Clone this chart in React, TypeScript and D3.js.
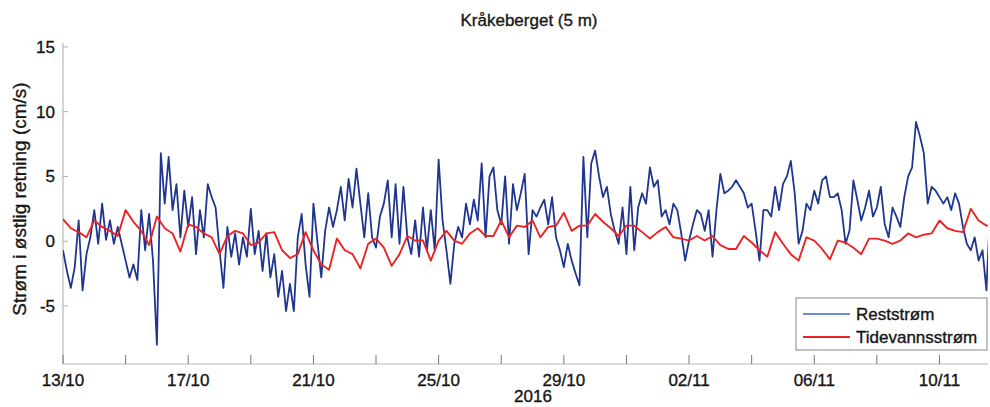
import React from "react";
import * as d3 from "d3";

// Reststrøm (cm/s), one reading every 3 hours from 13/10/2016 00:00
const reststromValues: number[] = [
  -0.7, -2.3, -3.6, -2.0, 1.6, -3.8, -1.0, 0.3,
  2.4, -0.2, 2.9, 0.1, 1.6, -0.2, 1.1, -0.2,
  -1.5, -2.8, -1.8, -3.0, 2.4, -0.7, 2.1, -1.5,
  -8.0, 6.8, 2.9, 6.5, 2.4, 4.4, 0.3, 3.9,
  1.1, 3.4, -1.0, 2.4, 0.3, 4.4, 3.4, 2.6,
  -0.7, -3.6, 1.1, -1.2, 0.6, -1.8, 0.3, -1.2,
  2.5, -1.0, 0.8, -2.3, 0.6, -2.8, -1.0, -4.3,
  -2.3, -5.4, -3.3, -5.4, 0.3,
  2.1, -1.8, -4.3, 2.9, 0.05, -2.8, 0.8, 2.6,
  1.1, 2.4, 4.2, 1.6, 4.8, 2.6, 5.6, 2.9,
  0.3, 3.7, 0.3, -0.5, 1.9, 2.9, 4.7, 0.3,
  4.4, -0.2, 4.2, 0.3, -1.0, 1.6, -1.2, 2.6,
  -0.7, 2.4, -0.7, 6.3, 1.6, -0.7, -3.3, -0.2,
  1.1, 0.3, 2.9, 1.3, 3.2, 1.6, 6.0, 0.3,
  5.0, 5.7, 2.4, 1.3, 5.0, -0.2, 4.4, 2.4,
  3.7, 5.2, -1.0, 2.4,
  1.9, 2.6, 3.2, 1.3, 3.4, 0.3, -0.7, -2.0,
  -0.2, -1.5, -2.5, -3.4, 6.5, 0.3, 6.0, 7.0,
  5.0, 3.4, 4.2, 2.1, 0.8, -0.2, 2.6, -1.0,
  4.2, -0.7, 2.6, 3.7, 2.9, 5.7, 4.2, 4.7,
  1.9, 2.4, 1.3, 2.9, 2.4, 0.6, -1.5, 0.05,
  1.3, 2.4, 2.1, 0.8, 2.4, -1.2, 2.4, 5.2,
  3.7, 3.9, 4.2, 4.7, 4.2, 3.7, 2.6, 2.9,
  0.8, -1.5, 2.4, 2.4,
  1.9, 4.2, 2.4, 4.4, 5.0, 6.2, 3.7, -0.2,
  0.8, 2.9, 2.4, 3.9, 2.9, 4.7, 5.0, 3.4,
  3.4, 3.7, 2.4, -0.2, 0.8, 4.7, 3.2, 1.6,
  2.6, 3.9, 1.9, 2.6, 4.2, 1.3, 0.3, 2.6,
  1.9, 1.1, 3.4, 5.0, 5.7, 9.2, 8.1, 6.8,
  2.9, 4.2, 3.9, 3.4, 2.9, 3.4, 2.4, 3.7,
  2.9, 1.1, -0.2, -0.7, 0.3, -1.5, -0.7, -3.8,
  2.9,
];

// Tidevannsstrøm (cm/s), one reading every 6 hours from 13/10/2016 00:00
const tidevannValues: number[] = [
  1.7, 1.0, 0.7, 0.3, 1.6, 1.1, 0.8, 0.4,
  2.4, 1.5, 0.8, -0.3, 1.9, 1.0, 0.6, -0.8,
  1.3, 1.1, 0.6, 0.3, -1.0, 0.4, 0.8, 0.6,
  -0.3, -0.1, 0.6, 0.7, -0.7, -1.3, -1.0,
  0.7, -0.7, -1.8, -2.2, 0.2, -0.7, -1.0, -2.1,
  -0.2, 0.2, -0.5, -1.9, -1.0, 0.4, 0.05, 0.05,
  -1.5, 0.05, 0.8, 0.05, -0.2, 0.6, 1.0, 0.4,
  0.4, 1.6, 0.3, 1.2, 1.1, 1.6,
  0.3, 1.1, 1.2, 2.2, 0.8, 1.2, 1.2, 2.1,
  1.5, 1.0, 0.4, 1.2, 1.2, 0.7, 0.2, 0.7,
  1.1, 0.3, 0.2, 0.05, 0.4, 0.05, 0.4, -0.3,
  -0.6, -0.6, 0.4, -0.1, -0.7, -1.2,
  0.7, -0.2, -1.0, -1.5, 0.3, 0.05, -0.6, -1.4,
  0.05, -0.1, -0.5, -1.0, 0.2, 0.2, 0.05, -0.2,
  0.05, 0.6, 0.3, 0.5, 0.6, 1.6, 1.0, 0.8,
  0.7, 2.5, 1.6, 1.2, 1.2,
];

const yTickValues = [-5, 0, 5, 10, 15];
const seriesNames = ["Reststrøm", "Tidevannsstrøm"];
const titleText = "Kråkeberget (5 m)";
const yLabelText = "Strøm i østlig retning (cm/s)";
const yearLabel = "2016";

const DAY = 864e5;
const START = Date.UTC(2016, 9, 13);
const END_DAYS = 29.55;
const REST_STEP_H = 3;
const TIDE_STEP_H = 6;

const W = 990;
const H = 407;
const left = 63;
const right = 988;
const top = 43;
const bottom = 364;

const BLUE = "#1f3590";
const RED = "#e82424";
const FONT = "Liberation Sans, Arial, Helvetica, sans-serif";
const TXT = "#161616";

export default function App() {
  const x = d3
    .scaleUtc()
    .domain([new Date(START), new Date(START + END_DAYS * DAY)])
    .range([left, right]);
  const y = d3.scaleLinear().domain([-9.48, 15.3]).range([bottom, top]);

  const restData = reststromValues.map((v, i) => ({
    t: new Date(START + i * REST_STEP_H * 3600e3),
    v,
  }));
  const tideData = tidevannValues.map((v, i) => ({
    t: new Date(START + i * TIDE_STEP_H * 3600e3),
    v,
  }));

  const line = d3
    .line<{ t: Date; v: number }>()
    .x((d) => x(d.t))
    .y((d) => y(d.v));

  const tickDates = d3.range(0, 29, 2).map((d) => new Date(START + d * DAY));
  const fmt = d3.utcFormat("%d/%m");

  const textProps = { fill: TXT, stroke: TXT, strokeWidth: 0.35 };

  return (
    <svg
      width={W}
      height={H}
      style={{ position: "absolute", left: 0, top: 0, background: "#fff" }}
      fontFamily={FONT}
    >
      <defs>
        <clipPath id="plotclip">
          <rect x={left} y={top - 5} width={right - left} height={bottom - top + 5} />
        </clipPath>
      </defs>
      <rect x={0} y={0} width={W} height={H} fill="#fff" />

      {/* title */}
      <text x={529} y={26} textAnchor="middle" fontSize={17} {...textProps}>
        {titleText}
      </text>

      {/* y label */}
      <text
        transform={`translate(26, 199) rotate(-90)`}
        textAnchor="middle"
        fontSize={19}
        {...textProps}
      >
        {yLabelText}
      </text>

      {/* axes */}
      <line x1={left} x2={left} y1={top} y2={bottom} stroke="#b8b8b8" strokeWidth={1.2} />
      <line x1={left} x2={right} y1={bottom} y2={bottom} stroke="#b8b8b8" strokeWidth={1.2} />

      {yTickValues.map((v) => (
        <g key={v}>
          <line x1={left} x2={left + 5} y1={y(v)} y2={y(v)} stroke="#b0b0b0" />
          <text
            x={55}
            y={y(v)}
            dy="0.35em"
            textAnchor="end"
            fontSize={17}
            {...textProps}
          >
            {v}
          </text>
        </g>
      ))}

      {tickDates.map((d, i) => (
        <g key={i}>
          <line x1={x(d)} x2={x(d)} y1={bottom} y2={bottom - 9} stroke="#777" />
          {i % 2 === 0 && (
            <text x={x(d)} y={386} textAnchor="middle" fontSize={17} {...textProps}>
              {fmt(d)}
            </text>
          )}
        </g>
      ))}
      <text x={533} y={402} textAnchor="middle" fontSize={17} {...textProps}>
        {yearLabel}
      </text>

      {/* data */}
      <g clipPath="url(#plotclip)">
        <path d={line(restData) || ""} fill="none" stroke={BLUE} strokeWidth={1.8} strokeLinejoin="round" />
        <path d={line(tideData) || ""} fill="none" stroke={RED} strokeWidth={1.9} strokeLinejoin="round" />
      </g>

      {/* legend */}
      <rect x={796} y={298} width={191} height={52} fill="#fff" stroke="#9a9a9a" strokeWidth={1.2} />
      <line x1={803} x2={850} y1={314} y2={314} stroke="#3f63c6" strokeWidth={1.6} />
      <line x1={803} x2={850} y1={337} y2={337} stroke={RED} strokeWidth={1.9} />
      <text x={856} y={314} dy="0.35em" fontSize={17} {...textProps}>
        {seriesNames[0]}
      </text>
      <text x={856} y={337} dy="0.35em" fontSize={17} {...textProps}>
        {seriesNames[1]}
      </text>
    </svg>
  );
}
